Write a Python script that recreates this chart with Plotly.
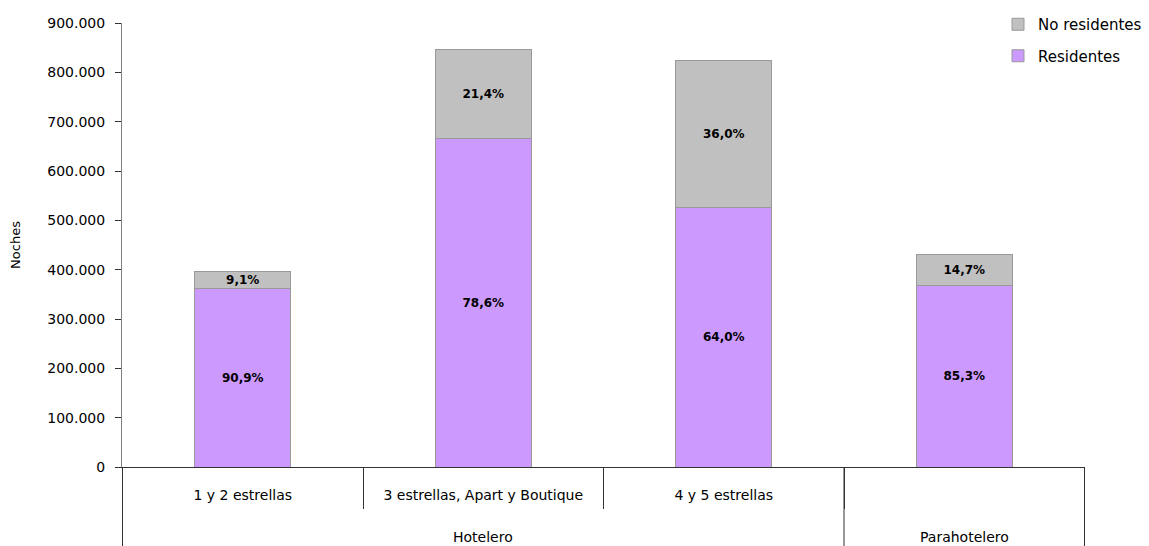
import plotly.graph_objects as go

# ---- data ----
grupos = ["Hotelero", "Hotelero", "Hotelero", "Parahotelero"]
categorias = ["1 y 2 estrellas", "3 estrellas, Apart y Boutique", "4 y 5 estrellas", "\u00a0"]
residentes = [361000, 666000, 527000, 368000]
no_residentes = [36000, 181000, 296000, 63500]
pct_residentes = ["90,9%", "78,6%", "64,0%", "85,3%"]
pct_no_residentes = ["9,1%", "21,4%", "36,0%", "14,7%"]
y_tickvals = [0, 100000, 200000, 300000, 400000, 500000, 600000, 700000, 800000, 900000]

FONT = "DejaVu Sans"
W, H = 1141, 538
ML, MR, MT, MB = 114, 64, 15, 79
PLOT_H = H - MT - MB

text_font = dict(family=FONT, size=12, color="black", weight="bold")

fig = go.Figure()
fig.add_trace(go.Bar(
    name="Residentes",
    x=categorias, y=residentes,
    marker=dict(color="#CC99FF", line=dict(color="#999999", width=1)),
    text=pct_residentes, textposition="inside", insidetextanchor="middle",
    textangle=0, textfont=text_font,
    width=0.4, legendgroup="r", legendrank=2,
))
fig.add_trace(go.Bar(
    name="No residentes",
    x=categorias, y=no_residentes,
    marker=dict(color="#C0C0C0", line=dict(color="#999999", width=1)),
    text=pct_no_residentes, textposition="inside", insidetextanchor="middle",
    textangle=0, textfont=text_font,
    width=0.4, legendgroup="n", legendrank=1,
))

# group row of the category axis: long dividers at group boundaries and group labels
group_names = []
group_idx = {}
for i, g in enumerate(grupos):
    if g not in group_idx:
        group_names.append(g)
        group_idx[g] = []
    group_idx[g].append(i)

bounds = sorted({min(v) - 0.5 for v in group_idx.values()} | {max(v) + 0.5 for v in group_idx.values()})
for b in bounds:
    fig.add_shape(type="line", xref="x", yref="paper", x0=b, x1=b,
                  y0=0, y1=-(MB + 2) / PLOT_H,
                  line=dict(color="#333333", width=1), layer="above")

for g in group_names:
    idx = group_idx[g]
    fig.add_annotation(text=g, xref="x", yref="paper",
                       x=sum(idx) / len(idx), y=-70 / PLOT_H,
                       xanchor="center", yanchor="middle", showarrow=False,
                       font=dict(family=FONT, size=14, color="black"))

fig.update_layout(
    width=W, height=H,
    margin=dict(l=ML, r=MR, t=MT, b=MB, autoexpand=False),
    paper_bgcolor="white", plot_bgcolor="white",
    barmode="stack",
    separators=",.",
    font=dict(family=FONT, size=14, color="black"),
    uniformtext=dict(minsize=12, mode="show"),
    showlegend=True,
    legend=dict(
        x=(990 - ML) / (W - ML - MR), xanchor="left",
        y=1 + MT / PLOT_H, yanchor="top",
        traceorder="grouped", tracegroupgap=9,
        font=dict(family=FONT, size=15, color="black"),
        bgcolor="rgba(0,0,0,0)",
    ),
    xaxis=dict(
        type="category",
        showline=True, linecolor="#333333", linewidth=1,
        ticks="outside", tickson="boundaries", ticklen=41,
        tickcolor="#333333", tickwidth=1,
        tickfont=dict(family=FONT, size=14, color="black"),
        ticklabelstandoff=15,
        showgrid=False, zeroline=False,
    ),
    yaxis=dict(
        range=[0, 900000],
        tickvals=y_tickvals, tickformat=",d",
        showline=True, linecolor="#808080", linewidth=1,
        ticks="outside", ticklen=6, tickcolor="#333333",
        tickfont=dict(family=FONT, size=14, color="black"),
        ticklabelstandoff=7,
        showgrid=False, zeroline=False,
        title=dict(text="Noches", font=dict(family=FONT, size=13, color="black"), standoff=28),
    ),
)

fig.write_html("out.html")
